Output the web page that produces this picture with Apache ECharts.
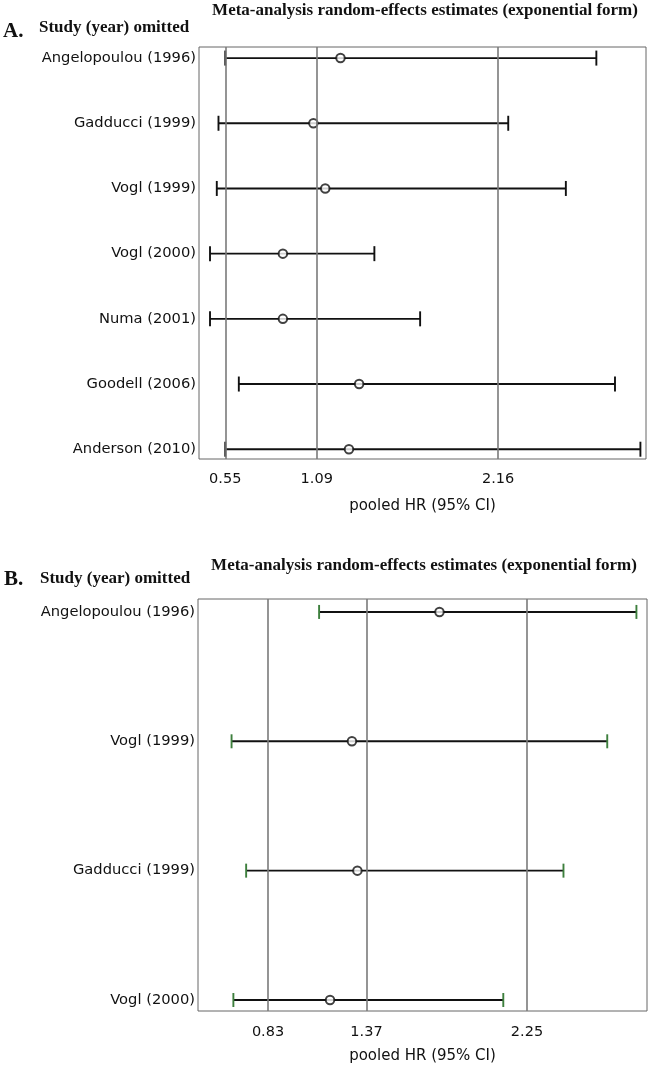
<!DOCTYPE html>
<html><head><meta charset="utf-8">
<script src="https://cdn.jsdelivr.net/npm/echarts@6/dist/echarts.min.js"></script>
<style>html,body{margin:0;padding:0;background:#fff}#c{width:653px;height:1066px}</style>
</head><body><div id="c"></div>
<script>
// Panel A
const studiesA = ['Angelopoulou (1996)','Gadducci (1999)','Vogl (1999)','Vogl (2000)','Numa (2001)','Goodell (2006)','Anderson (2010)'];
const estA  = [1.23, 1.07, 1.14, 0.89, 0.89, 1.34, 1.28];
const lowA  = [0.55, 0.51, 0.50, 0.46, 0.46, 0.63, 0.55];
const highA = [2.74, 2.22, 2.56, 1.43, 1.70, 2.85, 3.00];
const ticksA = [0.55, 1.09, 2.16];
const rangeA = [0.395, 3.033];
// Panel B
const studiesB = ['Angelopoulou (1996)','Vogl (1999)','Gadducci (1999)','Vogl (2000)'];
const estB  = [1.77, 1.29, 1.32, 1.17];
const lowB  = [1.11, 0.63, 0.71, 0.64];
const highB = [2.85, 2.69, 2.45, 2.12];
const ticksB = [0.83, 1.37, 2.25];
const rangeB = [0.446, 2.908];

const titleText = 'Meta-analysis random-effects estimates (exponential form)';
const yTitle = 'Study (year) omitted';
const xTitle = 'pooled HR (95% CI)';

const chart = echarts.init(document.getElementById('c'), null, {renderer:'canvas'});

function ciRender(capColor, capH){
  return function(params, api){
    const y = api.value(0), lo = api.value(1), hi = api.value(2);
    const a = api.coord([lo, y]), b = api.coord([hi, y]);
    const h = capH/2;
    return {type:'group', children:[
      {type:'line', shape:{x1:a[0],y1:a[1],x2:b[0],y2:b[1]}, style:{stroke:'#111', lineWidth:1.9}},
      {type:'line', shape:{x1:a[0],y1:a[1]-h,x2:a[0],y2:a[1]+h}, style:{stroke:capColor, lineWidth:1.9}},
      {type:'line', shape:{x1:b[0],y1:b[1]-h,x2:b[0],y2:b[1]+h}, style:{stroke:capColor, lineWidth:1.9}}
    ]};
  };
}

const labelFont = {fontFamily:'DejaVu Sans', color:'#111'};

function xAxisDef(gi, range, ticks, nameGap, margin){
  return {
    type:'value', gridIndex:gi, min:range[0], max:range[1],
    axisLine:{show:false}, axisTick:{show:false}, splitLine:{show:false},
    axisLabel:Object.assign({customValues:ticks, fontSize:14.5, margin:margin, formatter:v=>v.toFixed(2)}, labelFont),
    name:xTitle, nameLocation:'middle', nameGap:nameGap,
    nameTextStyle:Object.assign({fontSize:15}, labelFont)
  };
}
function yAxisDef(gi, min, max, studies){
  return {
    type:'value', gridIndex:gi, inverse:true, min:min, max:max,
    axisLine:{show:false}, axisTick:{show:false}, splitLine:{show:false},
    axisLabel:Object.assign({customValues:studies.map((_,i)=>i+1), fontSize:14.7, margin:3,
      formatter:v=>studies[Math.round(v)-1] || ''}, labelFont)
  };
}
function seriesFor(idx, studies, est, low, high, ticks, capColor, capH){
  return [
    {type:'scatter', xAxisIndex:idx, yAxisIndex:idx, data:[], z:1, silent:true,
      markLine:{silent:true, symbol:['none','none'], label:{show:false},
        lineStyle:{color:'#7a7a7a', width:1.6, type:'solid'},
        data:ticks.map(v=>({xAxis:v}))}},
    {type:'custom', xAxisIndex:idx, yAxisIndex:idx, z:3,
      renderItem:ciRender(capColor, capH),
      encode:{x:[1,2], y:0},
      data:studies.map((_,i)=>[i+1, low[i], high[i]])},
    {type:'scatter', xAxisIndex:idx, yAxisIndex:idx, z:4, symbol:'circle', symbolSize:8.5,
      itemStyle:{color:'#fff', borderColor:'#111', borderWidth:2},
      data:est.map((v,i)=>[v, i+1])}
  ];
}

function headText(x, y, text, size, align){
  return {type:'text', x:x, y:y, silent:true,
    style:{text:text, font:'bold '+size+'px "Liberation Serif"', fill:'#111', textAlign:align, textVerticalAlign:'middle'}};
}

chart.setOption({
  animation:false,
  backgroundColor:'#fff',
  grid:[
    {left:199, top:47, width:447, height:412, show:true, borderColor:'#666', borderWidth:1, backgroundColor:'transparent'},
    {left:198, top:599, width:449, height:412, show:true, borderColor:'#666', borderWidth:1, backgroundColor:'transparent'}
  ],
  xAxis:[xAxisDef(0, rangeA, ticksA, 40, 13), xAxisDef(1, rangeB, ticksB, 38, 14)],
  yAxis:[yAxisDef(0, 0.83, 7.15, studiesA), yAxisDef(1, 0.9, 4.085, studiesB)],
  series:[].concat(
    seriesFor(0, studiesA, estA, lowA, highA, ticksA, '#111', 15),
    seriesFor(1, studiesB, estB, lowB, highB, ticksB, '#3d7f3d', 14)
  ),
  graphic:[
    headText(425, 11, titleText, 17, 'center'),
    headText(39, 28, yTitle, 17, 'left'),
    headText(3, 32, 'A.', 21, 'left'),
    headText(424, 566, titleText, 17, 'center'),
    headText(40, 579, yTitle, 17, 'left'),
    headText(4, 580, 'B.', 21, 'left')
  ]
});
</script></body></html>
